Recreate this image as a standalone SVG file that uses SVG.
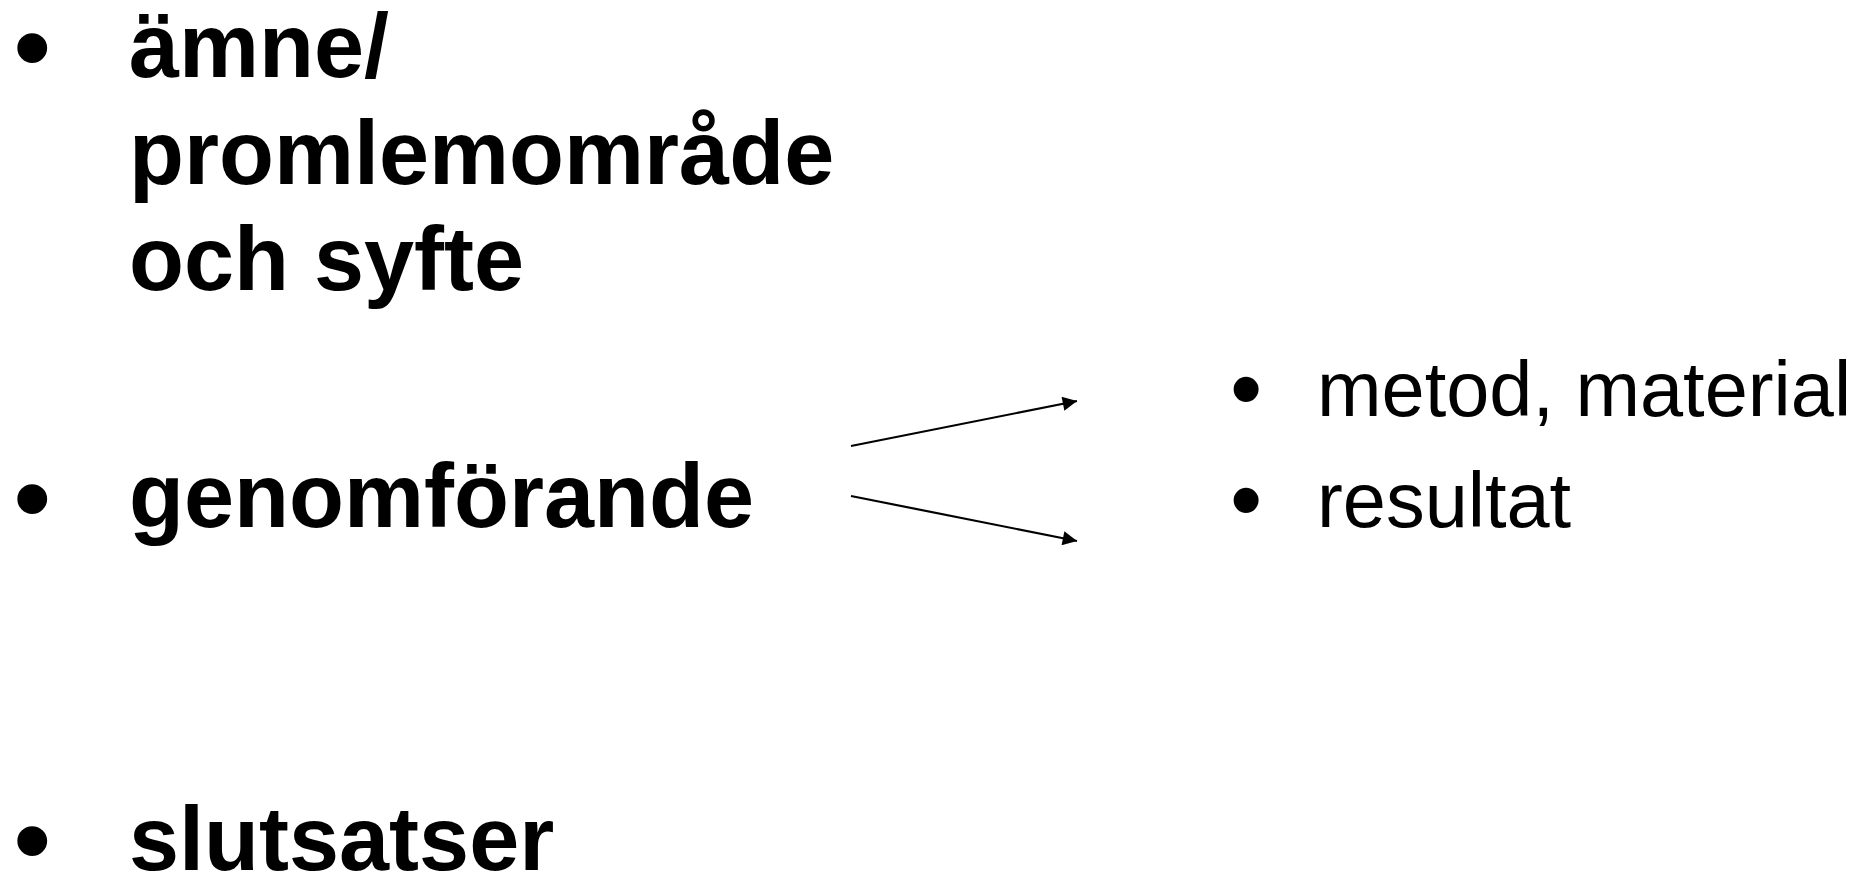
<svg xmlns="http://www.w3.org/2000/svg" width="1854" height="876" viewBox="0 0 1854 876">
<style>
.b{font-family:"Liberation Sans",Arial,sans-serif;font-weight:bold;font-size:90px;fill:#000}
.bb{font-family:"Liberation Sans",Arial,sans-serif;font-size:110px;fill:#000}
.r{font-family:"Liberation Sans",Arial,sans-serif;font-size:77.5px;fill:#000}
.rb{font-family:"Liberation Sans",Arial,sans-serif;font-size:92px;fill:#000}
.c{stroke:#000;stroke-width:2.2;fill:none}
</style>
<defs>
<marker id="ah" viewBox="0 0 10 10" refX="10" refY="5" markerWidth="7" markerHeight="6.5" markerUnits="strokeWidth" orient="auto">
<path d="M0,0 L10,5 L0,10 z" fill="#000"/>
</marker>
</defs>
<rect width="1854" height="876" fill="#fff"/>
<g id="item-amne">
<text class="bb" x="13" y="84">•</text>
<text class="b" x="129" y="77">ämne/</text>
<text class="b" x="129" y="183.5">promlemområde</text>
<text class="b" x="129" y="290">och syfte</text>
</g>
<g id="item-genomforande">
<text class="bb" x="13" y="535">•</text>
<text class="b" x="129" y="527">genomförande</text>
</g>
<g id="item-slutsatser">
<text class="bb" x="13" y="877">•</text>
<text class="b" x="129" y="870">slutsatser</text>
</g>
<g id="item-metod">
<text class="rb" x="1230" y="420">•</text>
<text class="r" x="1317" y="416">metod, material</text>
</g>
<g id="item-resultat">
<text class="rb" x="1230" y="531">•</text>
<text class="r" x="1317" y="527">resultat</text>
</g>
<g id="connectors">
<line class="c" x1="851" y1="446" x2="1077" y2="401" marker-end="url(#ah)"/>
<line class="c" x1="851" y1="496" x2="1077" y2="541" marker-end="url(#ah)"/>
</g>
</svg>
